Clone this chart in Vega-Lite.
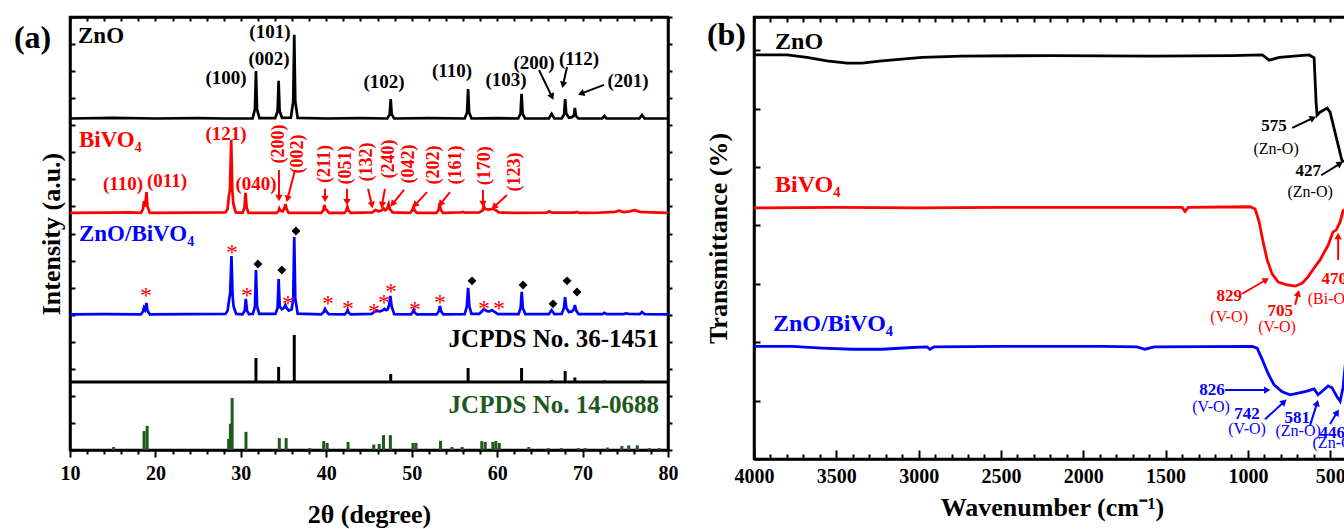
{
  "$schema": "https://vega.github.io/schema/vega-lite/v6.json",
  "background": "white",
  "padding": {"left": 12, "top": 14, "right": 0, "bottom": 0},
  "spacing": 23,
  "config": {
    "font": "Liberation Serif",
    "view": {"stroke": "black", "strokeWidth": 2.5},
    "axis": {
      "grid": false, "domainColor": "black", "domainWidth": 2.5, "tickColor": "black", "tickWidth": 2,
      "labelFont": "Liberation Serif", "labelFontWeight": "bold", "labelFontSize": 20, "labelColor": "black",
      "titleFont": "Liberation Serif", "titleFontWeight": "bold", "titleFontSize": 26, "titleColor": "black",
      "labelFlush": false, "labelOverlap": false
    }
  },
  "datasets": {
    "xrd": [
      {"sample":"ZnO","deg":10,"inten":12.25},{"sample":"ZnO","deg":15,"inten":12.27},{"sample":"ZnO","deg":20,"inten":12.25},{"sample":"ZnO","deg":25,"inten":12.26},{"sample":"ZnO","deg":28,"inten":12.25},
      {"sample":"ZnO","deg":31.37,"inten":12.25},{"sample":"ZnO","deg":31.65,"inten":12.6},{"sample":"ZnO","deg":31.77,"inten":14.0},{"sample":"ZnO","deg":31.89,"inten":12.6},{"sample":"ZnO","deg":32.17,"inten":12.26},
      {"sample":"ZnO","deg":34.02,"inten":12.26},{"sample":"ZnO","deg":34.3,"inten":12.52},{"sample":"ZnO","deg":34.42,"inten":13.64},{"sample":"ZnO","deg":34.54,"inten":12.52},{"sample":"ZnO","deg":34.82,"inten":12.27},
      {"sample":"ZnO","deg":35.85,"inten":12.28},{"sample":"ZnO","deg":36.13,"inten":12.87},{"sample":"ZnO","deg":36.25,"inten":15.34},{"sample":"ZnO","deg":36.37,"inten":12.87},{"sample":"ZnO","deg":36.65,"inten":12.27},
      {"sample":"ZnO","deg":40,"inten":12.25},{"sample":"ZnO","deg":44,"inten":12.26},
      {"sample":"ZnO","deg":47.14,"inten":12.25},{"sample":"ZnO","deg":47.42,"inten":12.4},{"sample":"ZnO","deg":47.54,"inten":12.97},{"sample":"ZnO","deg":47.66,"inten":12.4},{"sample":"ZnO","deg":47.94,"inten":12.25},
      {"sample":"ZnO","deg":52,"inten":12.26},
      {"sample":"ZnO","deg":56.2,"inten":12.25},{"sample":"ZnO","deg":56.48,"inten":12.47},{"sample":"ZnO","deg":56.6,"inten":13.34},{"sample":"ZnO","deg":56.72,"inten":12.47},{"sample":"ZnO","deg":57.0,"inten":12.25},
      {"sample":"ZnO","deg":60,"inten":12.26},
      {"sample":"ZnO","deg":62.46,"inten":12.25},{"sample":"ZnO","deg":62.74,"inten":12.43},{"sample":"ZnO","deg":62.86,"inten":13.16},{"sample":"ZnO","deg":62.98,"inten":12.43},{"sample":"ZnO","deg":63.26,"inten":12.25},
      {"sample":"ZnO","deg":66.05,"inten":12.25},{"sample":"ZnO","deg":66.38,"inten":12.42},{"sample":"ZnO","deg":66.7,"inten":12.25},
      {"sample":"ZnO","deg":67.55,"inten":12.25},{"sample":"ZnO","deg":67.84,"inten":12.4},{"sample":"ZnO","deg":67.96,"inten":12.97},{"sample":"ZnO","deg":68.08,"inten":12.45},{"sample":"ZnO","deg":68.4,"inten":12.28},{"sample":"ZnO","deg":68.75,"inten":12.3},{"sample":"ZnO","deg":68.98,"inten":12.35},{"sample":"ZnO","deg":69.1,"inten":12.64},{"sample":"ZnO","deg":69.22,"inten":12.35},{"sample":"ZnO","deg":69.5,"inten":12.25},
      {"sample":"ZnO","deg":72.3,"inten":12.25},{"sample":"ZnO","deg":72.56,"inten":12.34},{"sample":"ZnO","deg":72.8,"inten":12.25},
      {"sample":"ZnO","deg":76.65,"inten":12.25},{"sample":"ZnO","deg":76.95,"inten":12.38},{"sample":"ZnO","deg":77.25,"inten":12.25},{"sample":"ZnO","deg":80,"inten":12.25},

      {"sample":"BiVO4","deg":10,"inten":8.76},{"sample":"BiVO4","deg":14,"inten":8.77},{"sample":"BiVO4","deg":17,"inten":8.78},
      {"sample":"BiVO4","deg":18.3,"inten":8.76},{"sample":"BiVO4","deg":18.55,"inten":8.9},{"sample":"BiVO4","deg":18.65,"inten":9.2},{"sample":"BiVO4","deg":18.75,"inten":9.0},{"sample":"BiVO4","deg":18.85,"inten":9.2},{"sample":"BiVO4","deg":18.95,"inten":9.53},{"sample":"BiVO4","deg":19.07,"inten":9.0},{"sample":"BiVO4","deg":19.35,"inten":8.76},
      {"sample":"BiVO4","deg":24,"inten":8.77},
      {"sample":"BiVO4","deg":28.2,"inten":8.78},{"sample":"BiVO4","deg":28.45,"inten":8.9},{"sample":"BiVO4","deg":28.6,"inten":9.4},{"sample":"BiVO4","deg":28.72,"inten":9.6},{"sample":"BiVO4","deg":28.87,"inten":11.45},{"sample":"BiVO4","deg":29.0,"inten":9.6},{"sample":"BiVO4","deg":29.12,"inten":9.1},{"sample":"BiVO4","deg":29.4,"inten":8.78},
      {"sample":"BiVO4","deg":30.2,"inten":8.76},{"sample":"BiVO4","deg":30.42,"inten":8.95},{"sample":"BiVO4","deg":30.55,"inten":9.5},{"sample":"BiVO4","deg":30.68,"inten":8.95},{"sample":"BiVO4","deg":30.9,"inten":8.76},
      {"sample":"BiVO4","deg":34.2,"inten":8.76},{"sample":"BiVO4","deg":34.42,"inten":8.84},{"sample":"BiVO4","deg":34.5,"inten":8.92},{"sample":"BiVO4","deg":34.62,"inten":8.84},{"sample":"BiVO4","deg":34.9,"inten":8.82},{"sample":"BiVO4","deg":35.1,"inten":8.95},{"sample":"BiVO4","deg":35.22,"inten":9.09},{"sample":"BiVO4","deg":35.36,"inten":8.9},{"sample":"BiVO4","deg":35.6,"inten":8.76},
      {"sample":"BiVO4","deg":39.4,"inten":8.76},{"sample":"BiVO4","deg":39.65,"inten":8.85},{"sample":"BiVO4","deg":39.78,"inten":9.05},{"sample":"BiVO4","deg":39.9,"inten":8.9},{"sample":"BiVO4","deg":40.1,"inten":8.85},{"sample":"BiVO4","deg":40.3,"inten":8.76},
      {"sample":"BiVO4","deg":42.15,"inten":8.76},{"sample":"BiVO4","deg":42.35,"inten":8.85},{"sample":"BiVO4","deg":42.47,"inten":8.98},{"sample":"BiVO4","deg":42.6,"inten":8.85},{"sample":"BiVO4","deg":42.85,"inten":8.76},
      {"sample":"BiVO4","deg":45.4,"inten":8.78},{"sample":"BiVO4","deg":45.75,"inten":8.87},{"sample":"BiVO4","deg":46.1,"inten":8.82},{"sample":"BiVO4","deg":46.5,"inten":8.86},{"sample":"BiVO4","deg":46.7,"inten":8.94},{"sample":"BiVO4","deg":46.9,"inten":8.86},{"sample":"BiVO4","deg":47.1,"inten":8.9},{"sample":"BiVO4","deg":47.3,"inten":9.09},{"sample":"BiVO4","deg":47.45,"inten":8.9},{"sample":"BiVO4","deg":47.75,"inten":8.78},
      {"sample":"BiVO4","deg":49.8,"inten":8.76},{"sample":"BiVO4","deg":50.05,"inten":8.85},{"sample":"BiVO4","deg":50.2,"inten":8.98},{"sample":"BiVO4","deg":50.35,"inten":8.85},{"sample":"BiVO4","deg":50.6,"inten":8.76},
      {"sample":"BiVO4","deg":52.9,"inten":8.76},{"sample":"BiVO4","deg":53.15,"inten":8.88},{"sample":"BiVO4","deg":53.27,"inten":9.13},{"sample":"BiVO4","deg":53.4,"inten":8.88},{"sample":"BiVO4","deg":53.65,"inten":8.76},
      {"sample":"BiVO4","deg":55.8,"inten":8.78},{"sample":"BiVO4","deg":56.0,"inten":8.8},{"sample":"BiVO4","deg":56.3,"inten":8.77},
      {"sample":"BiVO4","deg":57.9,"inten":8.78},{"sample":"BiVO4","deg":58.3,"inten":8.85},{"sample":"BiVO4","deg":58.45,"inten":9.02},{"sample":"BiVO4","deg":58.6,"inten":8.9},{"sample":"BiVO4","deg":59.0,"inten":8.88},{"sample":"BiVO4","deg":59.3,"inten":8.9},{"sample":"BiVO4","deg":59.5,"inten":8.92},{"sample":"BiVO4","deg":59.8,"inten":8.87},{"sample":"BiVO4","deg":60.2,"inten":8.78},
      {"sample":"BiVO4","deg":62,"inten":8.76},{"sample":"BiVO4","deg":65.8,"inten":8.77},{"sample":"BiVO4","deg":66.1,"inten":8.82},{"sample":"BiVO4","deg":66.4,"inten":8.77},{"sample":"BiVO4","deg":69.0,"inten":8.77},{"sample":"BiVO4","deg":69.3,"inten":8.8},{"sample":"BiVO4","deg":69.6,"inten":8.76},
      {"sample":"BiVO4","deg":72,"inten":8.77},{"sample":"BiVO4","deg":73.8,"inten":8.8},{"sample":"BiVO4","deg":74.3,"inten":8.84},{"sample":"BiVO4","deg":74.8,"inten":8.79},{"sample":"BiVO4","deg":75.5,"inten":8.82},{"sample":"BiVO4","deg":76.1,"inten":8.86},{"sample":"BiVO4","deg":76.7,"inten":8.8},{"sample":"BiVO4","deg":78,"inten":8.78},{"sample":"BiVO4","deg":80,"inten":8.76},

      {"sample":"ZnO/BiVO4","deg":10,"inten":5.01},{"sample":"ZnO/BiVO4","deg":14,"inten":5.02},{"sample":"ZnO/BiVO4","deg":18.3,"inten":5.01},{"sample":"ZnO/BiVO4","deg":18.55,"inten":5.12},{"sample":"ZnO/BiVO4","deg":18.65,"inten":5.25},{"sample":"ZnO/BiVO4","deg":18.78,"inten":5.18},{"sample":"ZnO/BiVO4","deg":18.95,"inten":5.43},{"sample":"ZnO/BiVO4","deg":19.07,"inten":5.15},{"sample":"ZnO/BiVO4","deg":19.35,"inten":5.01},
      {"sample":"ZnO/BiVO4","deg":24,"inten":5.02},
      {"sample":"ZnO/BiVO4","deg":28.2,"inten":5.03},{"sample":"ZnO/BiVO4","deg":28.45,"inten":5.15},{"sample":"ZnO/BiVO4","deg":28.6,"inten":5.5},{"sample":"ZnO/BiVO4","deg":28.75,"inten":5.8},{"sample":"ZnO/BiVO4","deg":28.9,"inten":7.17},{"sample":"ZnO/BiVO4","deg":29.03,"inten":5.7},{"sample":"ZnO/BiVO4","deg":29.15,"inten":5.3},{"sample":"ZnO/BiVO4","deg":29.45,"inten":5.03},
      {"sample":"ZnO/BiVO4","deg":30.2,"inten":5.01},{"sample":"ZnO/BiVO4","deg":30.45,"inten":5.15},{"sample":"ZnO/BiVO4","deg":30.58,"inten":5.58},{"sample":"ZnO/BiVO4","deg":30.72,"inten":5.15},{"sample":"ZnO/BiVO4","deg":30.95,"inten":5.02},
      {"sample":"ZnO/BiVO4","deg":31.4,"inten":5.03},{"sample":"ZnO/BiVO4","deg":31.65,"inten":5.3},{"sample":"ZnO/BiVO4","deg":31.77,"inten":6.65},{"sample":"ZnO/BiVO4","deg":31.9,"inten":5.3},{"sample":"ZnO/BiVO4","deg":32.15,"inten":5.03},
      {"sample":"ZnO/BiVO4","deg":34.05,"inten":5.03},{"sample":"ZnO/BiVO4","deg":34.3,"inten":5.25},{"sample":"ZnO/BiVO4","deg":34.42,"inten":6.32},{"sample":"ZnO/BiVO4","deg":34.55,"inten":5.3},{"sample":"ZnO/BiVO4","deg":34.8,"inten":5.2},{"sample":"ZnO/BiVO4","deg":35.05,"inten":5.25},{"sample":"ZnO/BiVO4","deg":35.2,"inten":5.36},{"sample":"ZnO/BiVO4","deg":35.35,"inten":5.25},{"sample":"ZnO/BiVO4","deg":35.6,"inten":5.15},{"sample":"ZnO/BiVO4","deg":35.95,"inten":5.2},{"sample":"ZnO/BiVO4","deg":36.13,"inten":5.6},{"sample":"ZnO/BiVO4","deg":36.25,"inten":7.87},{"sample":"ZnO/BiVO4","deg":36.37,"inten":5.6},{"sample":"ZnO/BiVO4","deg":36.65,"inten":5.04},
      {"sample":"ZnO/BiVO4","deg":39.4,"inten":5.01},{"sample":"ZnO/BiVO4","deg":39.7,"inten":5.1},{"sample":"ZnO/BiVO4","deg":39.85,"inten":5.21},{"sample":"ZnO/BiVO4","deg":40.05,"inten":5.1},{"sample":"ZnO/BiVO4","deg":40.3,"inten":5.02},
      {"sample":"ZnO/BiVO4","deg":42.15,"inten":5.01},{"sample":"ZnO/BiVO4","deg":42.38,"inten":5.08},{"sample":"ZnO/BiVO4","deg":42.5,"inten":5.17},{"sample":"ZnO/BiVO4","deg":42.62,"inten":5.08},{"sample":"ZnO/BiVO4","deg":42.85,"inten":5.01},
      {"sample":"ZnO/BiVO4","deg":45.3,"inten":5.03},{"sample":"ZnO/BiVO4","deg":45.8,"inten":5.14},{"sample":"ZnO/BiVO4","deg":46.3,"inten":5.12},{"sample":"ZnO/BiVO4","deg":46.6,"inten":5.16},{"sample":"ZnO/BiVO4","deg":46.8,"inten":5.21},{"sample":"ZnO/BiVO4","deg":47.0,"inten":5.17},{"sample":"ZnO/BiVO4","deg":47.2,"inten":5.2},{"sample":"ZnO/BiVO4","deg":47.35,"inten":5.35},{"sample":"ZnO/BiVO4","deg":47.5,"inten":5.69},{"sample":"ZnO/BiVO4","deg":47.65,"inten":5.3},{"sample":"ZnO/BiVO4","deg":47.95,"inten":5.02},
      {"sample":"ZnO/BiVO4","deg":49.9,"inten":5.01},{"sample":"ZnO/BiVO4","deg":50.1,"inten":5.08},{"sample":"ZnO/BiVO4","deg":50.22,"inten":5.17},{"sample":"ZnO/BiVO4","deg":50.35,"inten":5.08},{"sample":"ZnO/BiVO4","deg":50.6,"inten":5.01},
      {"sample":"ZnO/BiVO4","deg":52.9,"inten":5.01},{"sample":"ZnO/BiVO4","deg":53.15,"inten":5.12},{"sample":"ZnO/BiVO4","deg":53.3,"inten":5.32},{"sample":"ZnO/BiVO4","deg":53.45,"inten":5.12},{"sample":"ZnO/BiVO4","deg":53.7,"inten":5.01},
      {"sample":"ZnO/BiVO4","deg":56.2,"inten":5.02},{"sample":"ZnO/BiVO4","deg":56.45,"inten":5.3},{"sample":"ZnO/BiVO4","deg":56.6,"inten":5.99},{"sample":"ZnO/BiVO4","deg":56.75,"inten":5.3},{"sample":"ZnO/BiVO4","deg":57.0,"inten":5.03},
      {"sample":"ZnO/BiVO4","deg":57.9,"inten":5.03},{"sample":"ZnO/BiVO4","deg":58.2,"inten":5.12},{"sample":"ZnO/BiVO4","deg":58.45,"inten":5.21},{"sample":"ZnO/BiVO4","deg":58.8,"inten":5.13},{"sample":"ZnO/BiVO4","deg":59.1,"inten":5.12},{"sample":"ZnO/BiVO4","deg":59.4,"inten":5.17},{"sample":"ZnO/BiVO4","deg":59.7,"inten":5.1},{"sample":"ZnO/BiVO4","deg":60.1,"inten":5.02},
      {"sample":"ZnO/BiVO4","deg":62.5,"inten":5.02},{"sample":"ZnO/BiVO4","deg":62.75,"inten":5.25},{"sample":"ZnO/BiVO4","deg":62.88,"inten":5.84},{"sample":"ZnO/BiVO4","deg":63.0,"inten":5.25},{"sample":"ZnO/BiVO4","deg":63.3,"inten":5.02},
      {"sample":"ZnO/BiVO4","deg":66.05,"inten":5.02},{"sample":"ZnO/BiVO4","deg":66.38,"inten":5.17},{"sample":"ZnO/BiVO4","deg":66.7,"inten":5.02},
      {"sample":"ZnO/BiVO4","deg":67.55,"inten":5.03},{"sample":"ZnO/BiVO4","deg":67.82,"inten":5.25},{"sample":"ZnO/BiVO4","deg":67.95,"inten":5.65},{"sample":"ZnO/BiVO4","deg":68.1,"inten":5.25},{"sample":"ZnO/BiVO4","deg":68.4,"inten":5.1},{"sample":"ZnO/BiVO4","deg":68.75,"inten":5.12},{"sample":"ZnO/BiVO4","deg":68.98,"inten":5.2},{"sample":"ZnO/BiVO4","deg":69.1,"inten":5.36},{"sample":"ZnO/BiVO4","deg":69.25,"inten":5.15},{"sample":"ZnO/BiVO4","deg":69.55,"inten":5.02},
      {"sample":"ZnO/BiVO4","deg":72.3,"inten":5.02},{"sample":"ZnO/BiVO4","deg":72.56,"inten":5.07},{"sample":"ZnO/BiVO4","deg":72.85,"inten":5.02},{"sample":"ZnO/BiVO4","deg":74.8,"inten":5.02},{"sample":"ZnO/BiVO4","deg":75.1,"inten":5.05},{"sample":"ZnO/BiVO4","deg":75.4,"inten":5.03},{"sample":"ZnO/BiVO4","deg":76.7,"inten":5.02},{"sample":"ZnO/BiVO4","deg":76.95,"inten":5.1},{"sample":"ZnO/BiVO4","deg":77.25,"inten":5.02},{"sample":"ZnO/BiVO4","deg":80,"inten":5.01}
    ],
    "jcpds": [
      {"sample":"JCPDS 36-1451","deg":31.77,"base":2.51,"top":3.40},{"sample":"JCPDS 36-1451","deg":34.42,"base":2.51,"top":3.07},{"sample":"JCPDS 36-1451","deg":36.25,"base":2.51,"top":4.25},{"sample":"JCPDS 36-1451","deg":47.54,"base":2.51,"top":2.81},{"sample":"JCPDS 36-1451","deg":56.6,"base":2.51,"top":3.03},{"sample":"JCPDS 36-1451","deg":62.86,"base":2.51,"top":3.03},{"sample":"JCPDS 36-1451","deg":66.38,"base":2.51,"top":2.59},{"sample":"JCPDS 36-1451","deg":67.96,"base":2.51,"top":2.92},{"sample":"JCPDS 36-1451","deg":69.1,"base":2.51,"top":2.68},{"sample":"JCPDS 36-1451","deg":72.56,"base":2.51,"top":2.57},{"sample":"JCPDS 36-1451","deg":76.95,"base":2.51,"top":2.57},
      {"sample":"JCPDS 14-0688","deg":15.1,"base":0,"top":0.11},{"sample":"JCPDS 14-0688","deg":18.67,"base":0,"top":0.7},{"sample":"JCPDS 14-0688","deg":19.03,"base":0,"top":0.89},{"sample":"JCPDS 14-0688","deg":28.57,"base":0,"top":0.41},{"sample":"JCPDS 14-0688","deg":28.78,"base":0,"top":0.97},{"sample":"JCPDS 14-0688","deg":28.98,"base":0,"top":1.92},{"sample":"JCPDS 14-0688","deg":30.6,"base":0,"top":0.67},{"sample":"JCPDS 14-0688","deg":34.5,"base":0,"top":0.44},{"sample":"JCPDS 14-0688","deg":35.3,"base":0,"top":0.44},{"sample":"JCPDS 14-0688","deg":38.06,"base":0,"top":0.07},{"sample":"JCPDS 14-0688","deg":39.7,"base":0,"top":0.33},{"sample":"JCPDS 14-0688","deg":40.1,"base":0,"top":0.26},{"sample":"JCPDS 14-0688","deg":42.55,"base":0,"top":0.3},{"sample":"JCPDS 14-0688","deg":45.56,"base":0,"top":0.2},{"sample":"JCPDS 14-0688","deg":46.2,"base":0,"top":0.22},{"sample":"JCPDS 14-0688","deg":46.7,"base":0,"top":0.55},{"sample":"JCPDS 14-0688","deg":47.5,"base":0,"top":0.55},{"sample":"JCPDS 14-0688","deg":50.15,"base":0,"top":0.26},{"sample":"JCPDS 14-0688","deg":50.5,"base":0,"top":0.26},{"sample":"JCPDS 14-0688","deg":53.37,"base":0,"top":0.34},{"sample":"JCPDS 14-0688","deg":54.7,"base":0,"top":0.11},{"sample":"JCPDS 14-0688","deg":55.9,"base":0,"top":0.11},{"sample":"JCPDS 14-0688","deg":58.2,"base":0,"top":0.33},{"sample":"JCPDS 14-0688","deg":58.6,"base":0,"top":0.3},{"sample":"JCPDS 14-0688","deg":59.5,"base":0,"top":0.3},{"sample":"JCPDS 14-0688","deg":59.85,"base":0,"top":0.33},{"sample":"JCPDS 14-0688","deg":60.25,"base":0,"top":0.26},{"sample":"JCPDS 14-0688","deg":63.7,"base":0,"top":0.11},{"sample":"JCPDS 14-0688","deg":66.0,"base":0,"top":0.07},{"sample":"JCPDS 14-0688","deg":67.5,"base":0,"top":0.07},{"sample":"JCPDS 14-0688","deg":69.5,"base":0,"top":0.07},{"sample":"JCPDS 14-0688","deg":70.3,"base":0,"top":0.07},{"sample":"JCPDS 14-0688","deg":72.9,"base":0,"top":0.09},{"sample":"JCPDS 14-0688","deg":74.6,"base":0,"top":0.15},{"sample":"JCPDS 14-0688","deg":75.4,"base":0,"top":0.17},{"sample":"JCPDS 14-0688","deg":76.4,"base":0,"top":0.17},{"sample":"JCPDS 14-0688","deg":77.8,"base":0,"top":0.07},{"sample":"JCPDS 14-0688","deg":79.0,"base":0,"top":0.07}
    ],
    "jbase": [{"sample":"JCPDS 36-1451","level":2.51}],
    "xlab": [
      {"label":"ZnO","sample":"ZnO","kind":"name","deg":10.94,"inten":15.28},
      {"label":"BiVO₄","sample":"BiVO4","kind":"name","deg":11.05,"inten":11.47},
      {"label":"ZnO/BiVO₄","sample":"ZnO/BiVO4","kind":"name","deg":11.05,"inten":8.0},
      {"label":"(100)","sample":"ZnO","kind":"hkl","deg":28.26,"inten":13.75},
      {"label":"(002)","sample":"ZnO","kind":"hkl","deg":33.29,"inten":14.45},
      {"label":"(101)","sample":"ZnO","kind":"hkl","deg":33.4,"inten":15.45},
      {"label":"(102)","sample":"ZnO","kind":"hkl","deg":46.76,"inten":13.6},
      {"label":"(110)","sample":"ZnO","kind":"hkl","deg":54.72,"inten":14.0},
      {"label":"(103)","sample":"ZnO","kind":"hkl","deg":61.04,"inten":13.67},
      {"label":"(200)","sample":"ZnO","kind":"hkl","deg":64.31,"inten":14.3},
      {"label":"(112)","sample":"ZnO","kind":"hkl","deg":69.58,"inten":14.45},
      {"label":"(201)","sample":"ZnO","kind":"hkl","deg":75.32,"inten":13.64},
      {"label":"(110)","sample":"BiVO4","kind":"hkl","deg":16.2,"inten":9.83},
      {"label":"(011)","sample":"BiVO4","kind":"hkl","deg":21.35,"inten":9.94},
      {"label":"(121)","sample":"BiVO4","kind":"hkl","deg":28.26,"inten":11.68},
      {"label":"(040)","sample":"BiVO4","kind":"hkl","deg":31.77,"inten":9.83},
      {"label":"(200)","sample":"BiVO4","kind":"hklv","deg":34.46,"inten":11.31},
      {"label":"(002)","sample":"BiVO4","kind":"hklv","deg":36.69,"inten":10.94},
      {"label":"(211)","sample":"BiVO4","kind":"hklv","deg":39.85,"inten":10.57},
      {"label":"(051)","sample":"BiVO4","kind":"hklv","deg":42.3,"inten":10.53},
      {"label":"(132)","sample":"BiVO4","kind":"hklv","deg":44.77,"inten":10.64},
      {"label":"(240)","sample":"BiVO4","kind":"hklv","deg":47.34,"inten":10.75},
      {"label":"(042)","sample":"BiVO4","kind":"hklv","deg":49.68,"inten":10.57},
      {"label":"(202)","sample":"BiVO4","kind":"hklv","deg":52.6,"inten":10.53},
      {"label":"(161)","sample":"BiVO4","kind":"hklv","deg":55.18,"inten":10.53},
      {"label":"(170)","sample":"BiVO4","kind":"hklv","deg":58.58,"inten":10.5},
      {"label":"(123)","sample":"BiVO4","kind":"hklv","deg":62.09,"inten":10.27},
      {"label":"JCPDS No. 36-1451","sample":"JCPDS 36-1451","kind":"ref","deg":78.95,"inten":4.1},
      {"label":"JCPDS No. 14-0688","sample":"JCPDS 14-0688","kind":"ref","deg":78.95,"inten":1.66}
    ],
    "xarrow": [
      {"sample":"ZnO","deg":64.9,"inten":14.04,"deg2":66.42,"inten2":13.05},
      {"sample":"ZnO","deg":68.18,"inten":14.15,"deg2":67.71,"inten2":13.49},
      {"sample":"ZnO","deg":72.51,"inten":13.49,"deg2":69.82,"inten2":13.17},
      {"sample":"BiVO4","deg":34.46,"inten":10.35,"deg2":34.46,"inten2":9.31},
      {"sample":"BiVO4","deg":36.34,"inten":10.35,"deg2":35.46,"inten2":9.28},
      {"sample":"BiVO4","deg":39.85,"inten":9.65,"deg2":39.85,"inten2":9.28},
      {"sample":"BiVO4","deg":42.42,"inten":9.65,"deg2":42.42,"inten2":9.16},
      {"sample":"BiVO4","deg":44.88,"inten":9.65,"deg2":45.35,"inten2":9.05},
      {"sample":"BiVO4","deg":46.87,"inten":9.65,"deg2":46.52,"inten2":9.05},
      {"sample":"BiVO4","deg":49.1,"inten":9.61,"deg2":47.75,"inten2":9.09},
      {"sample":"BiVO4","deg":51.79,"inten":9.53,"deg2":50.38,"inten2":9.05},
      {"sample":"BiVO4","deg":54.48,"inten":9.53,"deg2":53.37,"inten2":9.09},
      {"sample":"BiVO4","deg":58.34,"inten":9.61,"deg2":58.34,"inten2":9.09},
      {"sample":"BiVO4","deg":61.15,"inten":9.42,"deg2":59.63,"inten2":8.98}
    ],
    "xmark": [
      {"kind":"star","deg":18.9,"inten":5.84},{"kind":"star","deg":28.96,"inten":7.43},{"kind":"star","deg":30.72,"inten":5.84},{"kind":"star","deg":35.52,"inten":5.54},{"kind":"star","deg":40.2,"inten":5.54},{"kind":"star","deg":42.54,"inten":5.36},{"kind":"star","deg":45.58,"inten":5.25},{"kind":"star","deg":46.75,"inten":5.58},{"kind":"star","deg":47.57,"inten":5.99},{"kind":"star","deg":50.38,"inten":5.32},{"kind":"star","deg":53.31,"inten":5.58},{"kind":"star","deg":58.46,"inten":5.36},{"kind":"star","deg":60.22,"inten":5.36},
      {"kind":"diamond","deg":32.0,"inten":6.87},{"kind":"diamond","deg":34.8,"inten":6.65},{"kind":"diamond","deg":36.45,"inten":8.09},{"kind":"diamond","deg":57.06,"inten":6.25},{"kind":"diamond","deg":63.03,"inten":6.1},{"kind":"diamond","deg":66.54,"inten":5.4},{"kind":"diamond","deg":68.18,"inten":6.25},{"kind":"diamond","deg":69.35,"inten":5.84}
    ],
    "ftir": [
      {"sample":"ZnO","wn":4000,"tr":6.92},{"sample":"ZnO","wn":3800,"tr":6.92},{"sample":"ZnO","wn":3678,"tr":6.88},{"sample":"ZnO","wn":3557,"tr":6.82},{"sample":"ZnO","wn":3435,"tr":6.78},{"sample":"ZnO","wn":3344,"tr":6.78},{"sample":"ZnO","wn":3222,"tr":6.82},{"sample":"ZnO","wn":3101,"tr":6.85},{"sample":"ZnO","wn":2979,"tr":6.88},{"sample":"ZnO","wn":2736,"tr":6.9},{"sample":"ZnO","wn":2190,"tr":6.91},{"sample":"ZnO","wn":1582,"tr":6.9},{"sample":"ZnO","wn":1096,"tr":6.91},{"sample":"ZnO","wn":913,"tr":6.92},{"sample":"ZnO","wn":871,"tr":6.83},{"sample":"ZnO","wn":810,"tr":6.88},{"sample":"ZnO","wn":628,"tr":6.92},{"sample":"ZnO","wn":598,"tr":6.87},{"sample":"ZnO","wn":586,"tr":6.11},{"sample":"ZnO","wn":580,"tr":5.89},{"sample":"ZnO","wn":562,"tr":5.94},{"sample":"ZnO","wn":519,"tr":6.01},{"sample":"ZnO","wn":501,"tr":5.94},{"sample":"ZnO","wn":428,"tr":5.1},{"sample":"ZnO","wn":400,"tr":5.1},
      {"sample":"BiVO4","wn":4000,"tr":4.3},{"sample":"BiVO4","wn":3500,"tr":4.31},{"sample":"BiVO4","wn":3000,"tr":4.3},{"sample":"BiVO4","wn":2500,"tr":4.31},{"sample":"BiVO4","wn":2000,"tr":4.31},{"sample":"BiVO4","wn":1400,"tr":4.31},{"sample":"BiVO4","wn":1382,"tr":4.24},{"sample":"BiVO4","wn":1363,"tr":4.31},{"sample":"BiVO4","wn":987,"tr":4.32},{"sample":"BiVO4","wn":956,"tr":4.28},{"sample":"BiVO4","wn":932,"tr":4.06},{"sample":"BiVO4","wn":908,"tr":3.72},{"sample":"BiVO4","wn":883,"tr":3.41},{"sample":"BiVO4","wn":853,"tr":3.17},{"sample":"BiVO4","wn":816,"tr":3.03},{"sample":"BiVO4","wn":762,"tr":2.98},{"sample":"BiVO4","wn":713,"tr":2.96},{"sample":"BiVO4","wn":671,"tr":3.01},{"sample":"BiVO4","wn":635,"tr":3.12},{"sample":"BiVO4","wn":598,"tr":3.27},{"sample":"BiVO4","wn":562,"tr":3.41},{"sample":"BiVO4","wn":513,"tr":3.66},{"sample":"BiVO4","wn":483,"tr":3.89},{"sample":"BiVO4","wn":464,"tr":3.92},{"sample":"BiVO4","wn":440,"tr":4.06},{"sample":"BiVO4","wn":422,"tr":4.25},{"sample":"BiVO4","wn":400,"tr":4.28},
      {"sample":"ZnO/BiVO4","wn":4000,"tr":1.93},{"sample":"ZnO/BiVO4","wn":3769,"tr":1.93},{"sample":"ZnO/BiVO4","wn":3587,"tr":1.9},{"sample":"ZnO/BiVO4","wn":3405,"tr":1.88},{"sample":"ZnO/BiVO4","wn":3222,"tr":1.88},{"sample":"ZnO/BiVO4","wn":3040,"tr":1.91},{"sample":"ZnO/BiVO4","wn":2949,"tr":1.92},{"sample":"ZnO/BiVO4","wn":2931,"tr":1.88},{"sample":"ZnO/BiVO4","wn":2906,"tr":1.92},{"sample":"ZnO/BiVO4","wn":2493,"tr":1.93},{"sample":"ZnO/BiVO4","wn":1886,"tr":1.93},{"sample":"ZnO/BiVO4","wn":1673,"tr":1.92},{"sample":"ZnO/BiVO4","wn":1625,"tr":1.88},{"sample":"ZnO/BiVO4","wn":1570,"tr":1.92},{"sample":"ZnO/BiVO4","wn":975,"tr":1.93},{"sample":"ZnO/BiVO4","wn":944,"tr":1.9},{"sample":"ZnO/BiVO4","wn":914,"tr":1.71},{"sample":"ZnO/BiVO4","wn":877,"tr":1.46},{"sample":"ZnO/BiVO4","wn":841,"tr":1.27},{"sample":"ZnO/BiVO4","wn":792,"tr":1.15},{"sample":"ZnO/BiVO4","wn":744,"tr":1.1},{"sample":"ZnO/BiVO4","wn":695,"tr":1.13},{"sample":"ZnO/BiVO4","wn":647,"tr":1.16},{"sample":"ZnO/BiVO4","wn":598,"tr":1.2},{"sample":"ZnO/BiVO4","wn":574,"tr":1.1},{"sample":"ZnO/BiVO4","wn":549,"tr":1.16},{"sample":"ZnO/BiVO4","wn":513,"tr":1.25},{"sample":"ZnO/BiVO4","wn":489,"tr":1.22},{"sample":"ZnO/BiVO4","wn":458,"tr":1.06},{"sample":"ZnO/BiVO4","wn":440,"tr":0.99},{"sample":"ZnO/BiVO4","wn":422,"tr":1.23},{"sample":"ZnO/BiVO4","wn":410,"tr":1.58},{"sample":"ZnO/BiVO4","wn":400,"tr":1.85}
    ],
    "flab": [
      {"label":"ZnO","sample":"ZnO","kind":"name","wn":3872,"tr":7.14},
      {"label":"BiVO₄","sample":"BiVO4","kind":"name","wn":3872,"tr":4.69},
      {"label":"ZnO/BiVO₄","sample":"ZnO/BiVO4","kind":"name","wn":3885,"tr":2.31},
      {"label":"575","sample":"ZnO","kind":"peak","wn":841,"tr":5.7},
      {"label":"(Zn-O)","sample":"ZnO","kind":"bond","wn":829,"tr":5.31},
      {"label":"427","sample":"ZnO","kind":"peak","wn":634,"tr":4.93},
      {"label":"(Zn-O)","sample":"ZnO","kind":"bond","wn":622,"tr":4.57},
      {"label":"829","sample":"BiVO4","kind":"peak","wn":1114,"tr":2.79},
      {"label":"(V-O)","sample":"BiVO4","kind":"bond","wn":1114,"tr":2.43},
      {"label":"705","sample":"BiVO4","kind":"peak","wn":804,"tr":2.53},
      {"label":"(V-O)","sample":"BiVO4","kind":"bond","wn":823,"tr":2.26},
      {"label":"470","sample":"BiVO4","kind":"peak","wn":476,"tr":3.08},
      {"label":"(Bi-O)","sample":"BiVO4","kind":"bond","wn":507,"tr":2.74},
      {"label":"826","sample":"ZnO/BiVO4","kind":"peak","wn":1218,"tr":1.18},
      {"label":"(V-O)","sample":"ZnO/BiVO4","kind":"bond","wn":1224,"tr":0.89},
      {"label":"742","sample":"ZnO/BiVO4","kind":"peak","wn":1005,"tr":0.77},
      {"label":"(V-O)","sample":"ZnO/BiVO4","kind":"bond","wn":1005,"tr":0.51},
      {"label":"581","sample":"ZnO/BiVO4","kind":"peak","wn":701,"tr":0.7},
      {"label":"(Zn-O)","sample":"ZnO/BiVO4","kind":"bond","wn":695,"tr":0.48},
      {"label":"446","sample":"ZnO/BiVO4","kind":"peak","wn":488,"tr":0.45},
      {"label":"(Zn-O)","sample":"ZnO/BiVO4","kind":"bond","wn":470,"tr":0.27}
    ],
    "farrow": [
      {"sample":"ZnO","wn":731,"tr":5.67,"wn2":604,"tr2":5.84},
      {"sample":"ZnO","wn":555,"tr":4.86,"wn2":440,"tr2":5.06},
      {"sample":"BiVO4","wn":1035,"tr":2.83,"wn2":889,"tr2":3.07},
      {"sample":"BiVO4","wn":713,"tr":2.64,"wn2":695,"tr2":2.84},
      {"sample":"BiVO4","wn":452,"tr":3.41,"wn2":452,"tr2":3.82},
      {"sample":"ZnO/BiVO4","wn":1139,"tr":1.18,"wn2":883,"tr2":1.18},
      {"sample":"ZnO/BiVO4","wn":896,"tr":0.68,"wn2":780,"tr2":0.98},
      {"sample":"ZnO/BiVO4","wn":622,"tr":0.58,"wn2":580,"tr2":0.96},
      {"sample":"ZnO/BiVO4","wn":501,"tr":0.6,"wn2":458,"tr2":0.8}
    ],
    "panels": [
      {"label":"(a)","deg":3.44,"inten":15.23},
      {"label":"(b)","wn":4286,"tr":7.26}
    ]
  },
  "hconcat": [
    {
      "width": 598,
      "height": 433,
      "resolve": {"axis": {"x": "independent", "y": "independent"}},
      "layer": [
        {
          "data": {"name": "xrd"},
          "mark": {"type": "line", "strokeWidth": 2.7},
          "encoding": {
            "x": {"field": "deg", "type": "quantitative", "scale": {"domain": [10, 80], "nice": false, "zero": false},
              "axis": {"orient": "bottom", "values": [10,12,14,16,18,20,22,24,26,28,30,32,34,36,38,40,42,44,46,48,50,52,54,56,58,60,62,64,66,68,70,72,74,76,78,80],
                "labelExpr": "datum.value % 10 === 0 ? datum.value : ''",
                "tickSize": {"condition": {"test": "datum.value % 10 === 0", "value": 7}, "value": 4},
                "labelPadding": 6, "title": "2θ (degree)", "titlePadding": 18}},
            "y": {"field": "inten", "type": "quantitative", "scale": {"domain": [0, 16], "nice": false, "zero": false},
              "axis": {"orient": "left", "values": [0,1,2,3,4,5,6,7,8,9,10,11,12,13,14,15,16], "labels": false, "tickSize": -5, "title": "Intensity (a.u.)", "titlePadding": 5}},
            "color": {"field": "sample", "type": "nominal", "legend": null,
              "scale": {"domain": ["ZnO","BiVO4","ZnO/BiVO4","JCPDS 36-1451","JCPDS 14-0688"], "range": ["#000000","#ff0000","#0000ff","#000000","#1e5a1e"]}}
          }
        },
        {
          "data": {"name": "jcpds"},
          "mark": {"type": "rule", "strokeWidth": 3},
          "encoding": {
            "x": {"field": "deg", "type": "quantitative",
              "axis": {"orient": "top", "values": [10,12,14,16,18,20,22,24,26,28,30,32,34,36,38,40,42,44,46,48,50,52,54,56,58,60,62,64,66,68,70,72,74,76,78,80], "labels": false, "tickSize": -4, "title": null}},
            "y": {"field": "base", "type": "quantitative",
              "axis": {"orient": "right", "values": [0,1,2,3,4,5,6,7,8,9,10,11,12,13,14,15,16], "labels": false, "tickSize": 4, "title": null}},
            "y2": {"field": "top"},
            "color": {"field": "sample", "type": "nominal", "legend": null}
          }
        },
        {
          "data": {"name": "jbase"},
          "mark": {"type": "rule", "strokeWidth": 3},
          "encoding": {
            "y": {"field": "level", "type": "quantitative", "axis": null},
            "color": {"field": "sample", "type": "nominal", "legend": null}
          }
        },
        {
          "data": {"name": "xlab"},
          "transform": [{"filter": "datum.kind === 'name'"}],
          "mark": {"type": "text", "align": "left", "baseline": "middle", "fontSize": 23, "fontWeight": "bold"},
          "encoding": {
            "x": {"field": "deg", "type": "quantitative", "axis": null},
            "y": {"field": "inten", "type": "quantitative", "axis": null},
            "text": {"field": "label"},
            "color": {"field": "sample", "type": "nominal", "legend": null}
          }
        },
        {
          "data": {"name": "xlab"},
          "transform": [{"filter": "datum.kind === 'hkl'"}],
          "mark": {"type": "text", "align": "center", "baseline": "middle", "fontSize": 19, "fontWeight": "bold"},
          "encoding": {
            "x": {"field": "deg", "type": "quantitative", "axis": null},
            "y": {"field": "inten", "type": "quantitative", "axis": null},
            "text": {"field": "label"},
            "color": {"field": "sample", "type": "nominal", "legend": null}
          }
        },
        {
          "data": {"name": "xlab"},
          "transform": [{"filter": "datum.kind === 'hklv'"}],
          "mark": {"type": "text", "align": "center", "baseline": "middle", "fontSize": 18, "fontWeight": "bold", "angle": 270},
          "encoding": {
            "x": {"field": "deg", "type": "quantitative", "axis": null},
            "y": {"field": "inten", "type": "quantitative", "axis": null},
            "text": {"field": "label"},
            "color": {"field": "sample", "type": "nominal", "legend": null}
          }
        },
        {
          "data": {"name": "xlab"},
          "transform": [{"filter": "datum.kind === 'ref'"}],
          "mark": {"type": "text", "align": "right", "baseline": "middle", "fontSize": 25, "fontWeight": "bold"},
          "encoding": {
            "x": {"field": "deg", "type": "quantitative", "axis": null},
            "y": {"field": "inten", "type": "quantitative", "axis": null},
            "text": {"field": "label"},
            "color": {"field": "sample", "type": "nominal", "legend": null}
          }
        },
        {
          "data": {"name": "xarrow"},
          "mark": {"type": "rule", "strokeWidth": 2},
          "encoding": {
            "x": {"field": "deg", "type": "quantitative", "axis": null},
            "y": {"field": "inten", "type": "quantitative", "axis": null},
            "x2": {"field": "deg2"},
            "y2": {"field": "inten2"},
            "color": {"field": "sample", "type": "nominal", "legend": null}
          }
        },
        {
          "data": {"name": "xarrow"},
          "transform": [{"calculate": "atan2((datum.deg2-datum.deg)*8.543,(datum.inten2-datum.inten)*27.06)*180/PI", "as": "ang"}],
          "mark": {"type": "point", "shape": "triangle-up", "filled": true, "size": 55, "opacity": 1},
          "encoding": {
            "x": {"field": "deg2", "type": "quantitative", "axis": null},
            "y": {"field": "inten2", "type": "quantitative", "axis": null},
            "angle": {"field": "ang", "type": "quantitative", "scale": null},
            "color": {"field": "sample", "type": "nominal", "legend": null}
          }
        },
        {
          "data": {"name": "xmark"},
          "transform": [{"filter": "datum.kind === 'star'"}],
          "mark": {"type": "text", "text": "*", "color": "#ff0000", "fontSize": 24, "baseline": "middle", "dy": 4},
          "encoding": {
            "x": {"field": "deg", "type": "quantitative", "axis": null},
            "y": {"field": "inten", "type": "quantitative", "axis": null}
          }
        },
        {
          "data": {"name": "xmark"},
          "transform": [{"filter": "datum.kind === 'diamond'"}],
          "mark": {"type": "point", "shape": "diamond", "filled": true, "color": "black", "size": 80, "opacity": 1},
          "encoding": {
            "x": {"field": "deg", "type": "quantitative", "axis": null},
            "y": {"field": "inten", "type": "quantitative", "axis": null}
          }
        },
        {
          "data": {"name": "panels"},
          "transform": [{"filter": "datum.label === '(a)'"}],
          "mark": {"type": "text", "align": "left", "baseline": "middle", "fontSize": 32, "fontWeight": "bold", "color": "black"},
          "encoding": {
            "x": {"field": "deg", "type": "quantitative", "axis": null},
            "y": {"field": "inten", "type": "quantitative", "axis": null},
            "text": {"field": "label"}
          }
        }
      ]
    },
    {
      "width": 596,
      "height": 442,
      "resolve": {"axis": {"x": "independent", "y": "independent"}},
      "layer": [
        {
          "data": {"name": "ftir"},
          "mark": {"type": "line", "strokeWidth": 2.8},
          "encoding": {
            "x": {"field": "wn", "type": "quantitative", "sort": null, "scale": {"domain": [4000, 380], "nice": false, "zero": false},
              "axis": {"orient": "bottom", "values": [4000,3900,3800,3700,3600,3500,3400,3300,3200,3100,3000,2900,2800,2700,2600,2500,2400,2300,2200,2100,2000,1900,1800,1700,1600,1500,1400,1300,1200,1100,1000,900,800,700,600,500,400],
                "labelExpr": "datum.value % 500 === 0 ? datum.value : ''",
                "tickSize": {"condition": {"test": "datum.value % 500 === 0", "value": -9}, "value": -5},
                "labelPadding": 16, "title": "Wavenumber (cm⁻¹)", "titlePadding": 4}},
            "y": {"field": "tr", "type": "quantitative", "scale": {"domain": [0, 7.57], "nice": false, "zero": false},
              "axis": {"orient": "left", "values": [0,1,2,3,4,5,6,7], "labels": false, "tickSize": -6, "title": "Transmittance (%)", "titlePadding": 22}},
            "color": {"field": "sample", "type": "nominal", "legend": null,
              "scale": {"domain": ["ZnO","BiVO4","ZnO/BiVO4","JCPDS 36-1451","JCPDS 14-0688"], "range": ["#000000","#ff0000","#0000ff","#000000","#1e5a1e"]}}
          }
        },
        {
          "data": {"name": "farrow"},
          "mark": {"type": "rule", "strokeWidth": 2},
          "encoding": {
            "x": {"field": "wn", "type": "quantitative",
              "axis": {"orient": "top", "values": [4000,3900,3800,3700,3600,3500,3400,3300,3200,3100,3000,2900,2800,2700,2600,2500,2400,2300,2200,2100,2000,1900,1800,1700,1600,1500,1400,1300,1200,1100,1000,900,800,700,600,500,400], "labels": false, "tickSize": -5, "title": null}},
            "y": {"field": "tr", "type": "quantitative",
              "axis": {"orient": "right", "values": [0,1,2,3,4,5,6,7], "labels": false, "tickSize": -5, "title": null}},
            "x2": {"field": "wn2"},
            "y2": {"field": "tr2"},
            "color": {"field": "sample", "type": "nominal", "legend": null}
          }
        },
        {
          "data": {"name": "farrow"},
          "transform": [{"calculate": "atan2(-(datum.wn2-datum.wn)*0.1646,(datum.tr2-datum.tr)*58.4)*180/PI", "as": "ang"}],
          "mark": {"type": "point", "shape": "triangle-up", "filled": true, "size": 55, "opacity": 1},
          "encoding": {
            "x": {"field": "wn2", "type": "quantitative", "axis": null},
            "y": {"field": "tr2", "type": "quantitative", "axis": null},
            "angle": {"field": "ang", "type": "quantitative", "scale": null},
            "color": {"field": "sample", "type": "nominal", "legend": null}
          }
        },
        {
          "data": {"name": "flab"},
          "transform": [{"filter": "datum.kind === 'name'"}],
          "mark": {"type": "text", "align": "left", "baseline": "middle", "fontSize": 24, "fontWeight": "bold"},
          "encoding": {
            "x": {"field": "wn", "type": "quantitative", "axis": null},
            "y": {"field": "tr", "type": "quantitative", "axis": null},
            "text": {"field": "label"},
            "color": {"field": "sample", "type": "nominal", "legend": null}
          }
        },
        {
          "data": {"name": "flab"},
          "transform": [{"filter": "datum.kind === 'peak'"}],
          "mark": {"type": "text", "align": "center", "baseline": "middle", "fontSize": 17, "fontWeight": "bold"},
          "encoding": {
            "x": {"field": "wn", "type": "quantitative", "axis": null},
            "y": {"field": "tr", "type": "quantitative", "axis": null},
            "text": {"field": "label"},
            "color": {"field": "sample", "type": "nominal", "legend": null}
          }
        },
        {
          "data": {"name": "flab"},
          "transform": [{"filter": "datum.kind === 'bond'"}],
          "mark": {"type": "text", "align": "center", "baseline": "middle", "fontSize": 16, "fontWeight": "normal"},
          "encoding": {
            "x": {"field": "wn", "type": "quantitative", "axis": null},
            "y": {"field": "tr", "type": "quantitative", "axis": null},
            "text": {"field": "label"},
            "color": {"field": "sample", "type": "nominal", "legend": null}
          }
        },
        {
          "data": {"name": "panels"},
          "transform": [{"filter": "datum.label === '(b)'"}],
          "mark": {"type": "text", "align": "left", "baseline": "middle", "fontSize": 32, "fontWeight": "bold", "color": "black"},
          "encoding": {
            "x": {"field": "wn", "type": "quantitative", "axis": null},
            "y": {"field": "tr", "type": "quantitative", "axis": null},
            "text": {"field": "label"}
          }
        }
      ]
    }
  ]
}
